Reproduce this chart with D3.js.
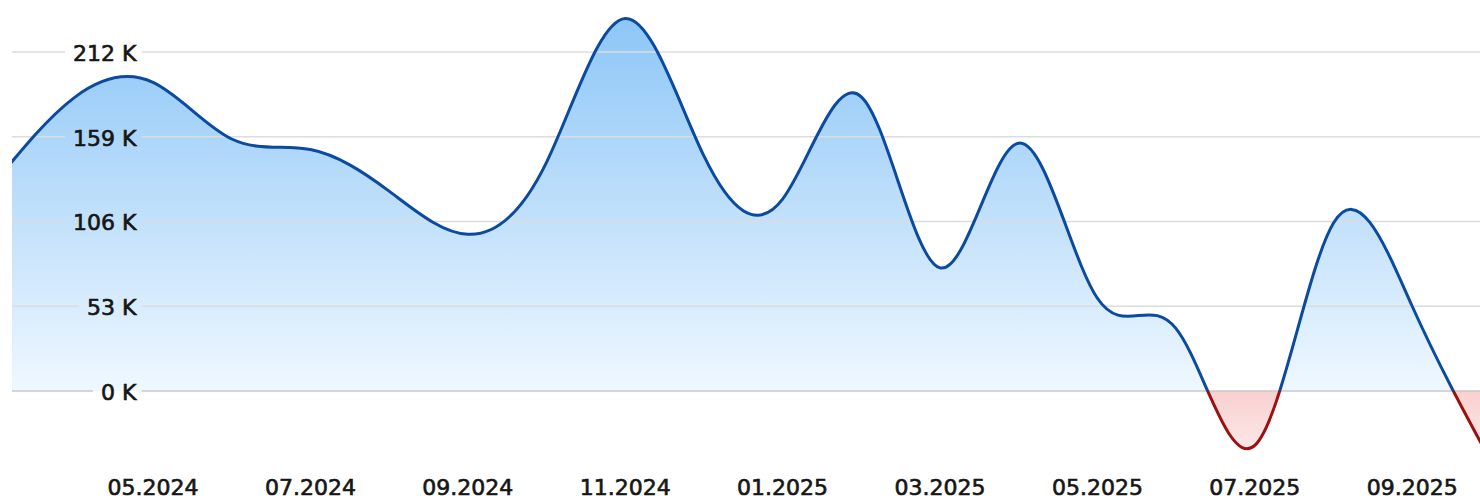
<!DOCTYPE html>
<html>
<head>
<meta charset="utf-8">
<script src="https://cdn.jsdelivr.net/npm/d3@7"></script>
<style>
  html, body { margin: 0; padding: 0; background: #ffffff; }
  svg { display: block; }
  text { font-family: "DejaVu Sans", Verdana, sans-serif; fill: #161616; stroke: #161616; stroke-width: 0.65px; }
</style>
</head>
<body>
<svg id="chart" width="1480" height="500"></svg>
<script>
// Monthly balance, in thousands
const months = [
  "03.2024", "04.2024", "05.2024", "06.2024", "07.2024", "08.2024", "09.2024",
  "10.2024", "11.2024", "12.2024", "01.2025", "02.2025", "03.2025", "04.2025",
  "05.2025", "06.2025", "07.2025", "08.2025", "09.2025", "10.2025"
];
const values = [
  131, 183.5, 193, 157.6, 151, 125, 98,
  143, 233, 147, 120, 184, 77, 155,
  58, 39, -34, 105, 53, -44
];
const yTicks = [0, 53, 106, 159, 212];
const xTickLabels = [
  "05.2024", "07.2024", "09.2024", "11.2024", "01.2025",
  "03.2025", "05.2025", "07.2025", "09.2025"
];

const W = 1480, H = 500;
const plotLeft = 12, plotRight = 1480;
const svg = d3.select("#chart");

const x = d3.scalePoint().domain(months).range([-4.4, 1490.9]);
const y = d3.scaleLinear().domain([0, 212]).range([391, 52]);
const curve = d3.curveNatural;

const data = months.map((m, i) => ({ m, v: values[i] }));

const defs = svg.append("defs");

const blue = defs.append("linearGradient")
  .attr("id", "fillPos").attr("gradientUnits", "userSpaceOnUse")
  .attr("x1", 0).attr("x2", 0).attr("y1", y(234)).attr("y2", y(0));
blue.append("stop").attr("offset", "0%").attr("stop-color", "#8cc6f7");
blue.append("stop").attr("offset", "55%").attr("stop-color", "#c3e1fb");
blue.append("stop").attr("offset", "100%").attr("stop-color", "#eff8ff");

const red = defs.append("linearGradient")
  .attr("id", "fillNeg").attr("gradientUnits", "userSpaceOnUse")
  .attr("x1", 0).attr("x2", 0).attr("y1", y(0)).attr("y2", y(-38));
red.append("stop").attr("offset", "0%").attr("stop-color", "#f9d0d0");
red.append("stop").attr("offset", "100%").attr("stop-color", "#fde9e9");

defs.append("clipPath").attr("id", "clipPos")
  .append("rect").attr("x", plotLeft).attr("y", 0)
  .attr("width", plotRight - plotLeft).attr("height", y(0));
defs.append("clipPath").attr("id", "clipNeg")
  .append("rect").attr("x", plotLeft).attr("y", y(0))
  .attr("width", plotRight - plotLeft).attr("height", H - y(0));

const area = d3.area()
  .x(d => x(d.m)).y0(y(0)).y1(d => y(d.v)).curve(curve);
const line = d3.line()
  .x(d => x(d.m)).y(d => y(d.v)).curve(curve);

// filled areas
svg.append("path").datum(data).attr("d", area)
  .attr("fill", "url(#fillPos)").attr("clip-path", "url(#clipPos)");
svg.append("path").datum(data).attr("d", area)
  .attr("fill", "url(#fillNeg)").attr("clip-path", "url(#clipNeg)");

// gridlines with labels sitting in a gap
const grid = svg.append("g");
const labelRight = 136.5;
yTicks.forEach(t => {
  const gy = y(t);
  const txt = grid.append("text")
    .attr("x", labelRight).attr("y", gy).attr("dy", "0.4em")
    .attr("text-anchor", "end").attr("font-size", 22)
    .text(t + " K");
  const w = txt.node().getComputedTextLength();
  const stroke = t === 0 ? "#c9c9c9" : "#dcdcdc";
  grid.insert("line", "text")
    .attr("x1", plotLeft).attr("x2", labelRight - w - 8)
    .attr("y1", gy).attr("y2", gy)
    .attr("stroke", stroke).attr("stroke-width", 1.6);
  grid.insert("line", "text")
    .attr("x1", labelRight + 5).attr("x2", plotRight)
    .attr("y1", gy).attr("y2", gy)
    .attr("stroke", stroke).attr("stroke-width", 1.6);
});

// lines
svg.append("path").datum(data).attr("d", line)
  .attr("fill", "none").attr("stroke", "#0b4a9f").attr("stroke-width", 3)
  .attr("clip-path", "url(#clipPos)");
svg.append("path").datum(data).attr("d", line)
  .attr("fill", "none").attr("stroke", "#9e0f0f").attr("stroke-width", 3)
  .attr("clip-path", "url(#clipNeg)");

// month labels
svg.append("g").selectAll("text").data(xTickLabels).join("text")
  .attr("x", d => x(d)).attr("y", 495)
  .attr("text-anchor", "middle").attr("font-size", 22)
  .text(d => d);
</script>
</body>
</html>
